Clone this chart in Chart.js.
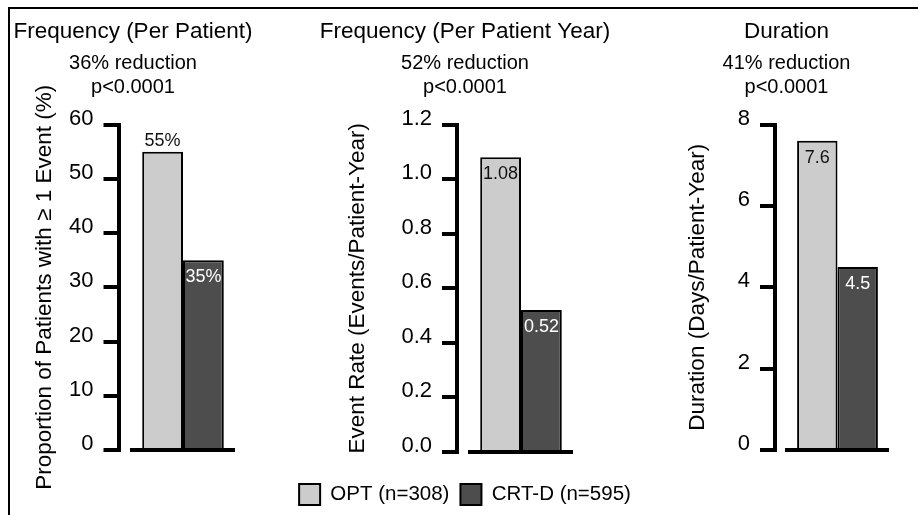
<!DOCTYPE html>
<html>
<head>
<meta charset="utf-8">
<script src="https://cdn.jsdelivr.net/npm/chart.js@4.4.1/dist/chart.umd.min.js"></script>
<style>
  html, body { margin: 0; padding: 0; background: #fff; overflow: hidden; }
  #wrap { position: relative; width: 918px; height: 515px; }
  #frame { position: absolute; left: 8px; top: 7px; right: 0; bottom: 0; border-left: 2px solid #000; border-top: 2px solid #000; }
  canvas { position: absolute; top: 0; }
</style>
</head>
<body>
<div id="wrap">
  <div id="frame"></div>
  <canvas id="perPatient" width="266" height="515" style="left:0px"></canvas>
  <canvas id="perYear" width="380" height="515" style="left:275px"></canvas>
  <canvas id="duration" width="263" height="515" style="left:655px"></canvas>
</div>
<script>
const GROUPS = ['OPT (n=308)', 'CRT-D (n=595)'];
const OPT_COLOR = '#cccccc';
const CRTD_COLOR = '#4d4d4d';
const FONT = '"Liberation Sans", Arial, Helvetica, sans-serif';

// frequency per patient (% with >= 1 event)
const patientValues = [55, 35];
const patientTicks = ['0', '10', '20', '30', '40', '50', '60'];

// events per patient-year
const yearValues = [1.08, 0.52];
const yearTicks = ['0.0', '0.2', '0.4', '0.6', '0.8', '1.0', '1.2'];

// days per patient-year
const durationValues = [7.6, 4.5];
const durationTicks = ['0', '2', '4', '6', '8'];

const TITLE_SIZE = 22.5;
const AXIS_TITLE_SIZE = 22.5;

Chart.defaults.color = '#000';
Chart.defaults.font.family = FONT;

// numbers printed on / above each bar
const valueLabels = {
    id: 'valueLabels',
    afterDatasetsDraw(chart, args, opts) {
        let ctx = chart.ctx;
        ctx.save();
        ctx.font = '18px ' + FONT;
        ctx.textAlign = 'center';
        ctx.textBaseline = 'middle';
        chart.data.datasets.forEach((ds, i) => {
            let bar = chart.getDatasetMeta(i).data[0];
            let text = ds.data[0] + (opts.suffix || '');
            if (opts.outside && opts.outside[i]) {
                ctx.fillStyle = '#111';
                ctx.fillText(text, bar.x, bar.y - 11);
            } else {
                ctx.fillStyle = i == 0 ? '#111' : '#fff';
                ctx.fillText(text, bar.x, bar.y + 17);
            }
        });
        ctx.restore();
    }
};

function makePanel(id, o) {
    let ctx = document.getElementById(id);
    return new Chart(ctx, {
        type: 'bar',
        data: {
            labels: [''],
            datasets: GROUPS.map((g, i) => ({
                label: g,
                data: [o.values[i]],
                backgroundColor: i == 0 ? OPT_COLOR : CRTD_COLOR,
                borderColor: '#000',
                borderWidth: 2,
                barPercentage: 1,
                categoryPercentage: 0.8,
                yAxisID: 'y'
            }))
        },
        options: {
            responsive: false,
            animation: false,
            events: [],
            layout: { padding: { bottom: o.legend ? 0 : 44 } },
            plugins: {
                title: {
                    display: true,
                    text: o.title,
                    font: { size: TITLE_SIZE, weight: 'normal' },
                    color: '#000',
                    padding: { top: 18.5, bottom: 5.5 }
                },
                subtitle: {
                    display: true,
                    text: o.subtitle,
                    font: { size: 20 },
                    color: '#000',
                    padding: { top: 0, bottom: 25.5 }
                },
                legend: {
                    display: !!o.legend,
                    position: 'bottom',
                    maxHeight: 44,
                    labels: {
                        boxWidth: 21,
                        boxHeight: 21,
                        padding: 11,
                        color: '#000',
                        font: { size: 20.5 }
                    }
                },
                tooltip: { enabled: false },
                valueLabels: { suffix: o.suffix, outside: o.outside }
            },
            scales: {
                x: {
                    grid: { display: false },
                    ticks: { display: false },
                    border: { color: '#000', width: 4 },
                    afterFit: s => { s.height = 21; }
                },
                y: {
                    position: 'left',
                    weight: 1,
                    min: Number(o.ticks[0]),
                    max: Number(o.ticks[o.ticks.length - 1]),
                    afterBuildTicks: s => { s.ticks = o.ticks.map(t => ({ value: Number(t) })); },
                    ticks: {
                        callback: (v, i) => o.ticks[i],
                        font: { size: 22 },
                        color: '#000',
                        padding: 10,
                        labelOffset: -6
                    },
                    grid: { drawOnChartArea: false, tickLength: 15, lineWidth: 4, color: '#000' },
                    border: { color: '#000', width: 4 },
                    title: {
                        display: true,
                        text: o.yTitle,
                        font: { size: AXIS_TITLE_SIZE },
                        color: '#000',
                        padding: { top: o.yTitleX - o.left - AXIS_TITLE_SIZE * 0.6, bottom: 0 }
                    },
                    afterFit: s => { s.width = o.axisX - o.left; }
                },
                // empty strips that push the plot area away from the y axis line
                gapL: {
                    type: 'linear', position: 'left', weight: 0,
                    grid: { display: false }, border: { display: false }, ticks: { display: false },
                    afterFit: s => { s.width = o.plotLeft - o.axisX; }
                },
                gapR: {
                    type: 'linear', position: 'right', weight: 0,
                    grid: { display: false }, border: { display: false }, ticks: { display: false },
                    afterFit: s => { s.width = o.left + o.width - o.plotRight; }
                }
            }
        },
        plugins: [valueLabels]
    });
}

makePanel('perPatient', {
    values: patientValues, ticks: patientTicks, suffix: '%', outside: [true, false],
    title: 'Frequency (Per Patient)', subtitle: ['36% reduction', 'p<0.0001'],
    yTitle: 'Proportion of Patients with \u2265 1 Event (%)',
    left: 0, width: 266, yTitleX: 45, axisX: 118.5, plotLeft: 132, plotRight: 234
});

makePanel('perYear', {
    values: yearValues, ticks: yearTicks, suffix: '', outside: [false, false], legend: true,
    title: 'Frequency (Per Patient Year)', subtitle: ['52% reduction', 'p<0.0001'],
    yTitle: 'Event Rate (Events/Patient-Year)',
    left: 275, width: 380, yTitleX: 358, axisX: 457, plotLeft: 470, plotRight: 572
});

makePanel('duration', {
    values: durationValues, ticks: durationTicks, suffix: '', outside: [false, false],
    title: 'Duration', subtitle: ['41% reduction', 'p<0.0001'],
    yTitle: 'Duration (Days/Patient-Year)',
    left: 655, width: 263, yTitleX: 698, axisX: 775, plotLeft: 787, plotRight: 888
});
</script>
</body>
</html>
